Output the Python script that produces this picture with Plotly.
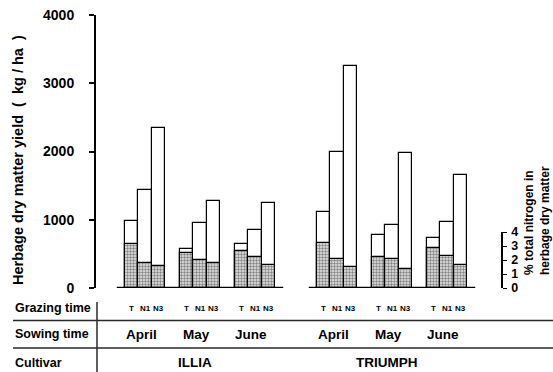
import plotly.graph_objects as go

# ---------------- data ----------------
cultivars = ["ILLIA", "TRIUMPH"]
sowing_times = ["April", "May", "June"]
grazing_times = ["T", "N1", "N3"]

# herbage dry matter yield (kg/ha), order: April T,N1,N3, May T,N1,N3, June T,N1,N3
illia_yield = [980, 1440, 2340, 575, 950, 1270, 650, 850, 1250]
triumph_yield = [1120, 1990, 3250, 780, 920, 1980, 740, 970, 1660]

# % total nitrogen in herbage dry matter (stippled part)
illia_n = [3.12, 1.76, 1.57, 2.48, 2.00, 1.76, 2.64, 2.19, 1.62]
triumph_n = [3.19, 2.07, 1.52, 2.24, 2.09, 1.38, 2.84, 2.29, 1.64]

yield_ticks = [0, 1000, 2000, 3000, 4000]
n_ticks = [0, 1, 2, 3, 4]

# ---------------- layout geometry ----------------
W, H = 553, 372
L, R, T, B = 96, 0, 15, 84
PW, PH = W - L - R, H - T - B
bottom_px = H - B

def px_x(px):
    return (px - L) / PW

def px_y(py):
    return (bottom_px - py) / PH

FONT = "Liberation Sans, Arial, Helvetica, sans-serif"
bar_w = 13.5
first_center = 131.5
group_step = 55.0
cultivar_step = 192.0

xs, ys, ns, bar_lab = [], [], [], []
group_centers = []
for c, (yv, nv) in enumerate([(illia_yield, illia_n), (triumph_yield, triumph_n)]):
    for m in range(len(sowing_times)):
        base = first_center + m * group_step + c * cultivar_step
        group_centers.append(base + bar_w)
        for b in range(len(grazing_times)):
            k = m * 3 + b
            xs.append(base + b * bar_w)
            ys.append(yv[k])
            ns.append(nv[k])
            bar_lab.append(grazing_times[b])

fig = go.Figure()
fig.add_trace(go.Bar(
    x=xs, y=ys, width=bar_w, yaxis="y",
    marker=dict(color="white", line=dict(color="black", width=1.2)),
    showlegend=False, hoverinfo="skip"))
fig.add_trace(go.Bar(
    x=xs, y=ns, width=bar_w, yaxis="y3",
    marker=dict(color="#d8d8d8", line=dict(color="black", width=1.2),
                pattern=dict(shape=".", fgcolor="#222222", bgcolor="#e6e6e6",
                             size=3, solidity=0.5)),
    showlegend=False, hoverinfo="skip"))

shapes = []
# baselines for each cultivar
for c in range(len(cultivars)):
    i0 = c * 9
    i1 = c * 9 + 8
    shapes.append(dict(type="line", xref="x", yref="y",
                       x0=xs[i0] - bar_w / 2 - 8, x1=xs[i1] + bar_w / 2 + 8,
                       y0=0, y1=0, line=dict(color="black", width=2.5)))
# table lines
line_col = "#2a2a2a"
for py in (320.5, 348):
    shapes.append(dict(type="line", xref="paper", yref="paper",
                       x0=px_x(13), x1=px_x(553), y0=px_y(py), y1=px_y(py),
                       line=dict(color=line_col, width=1.5)))
shapes.append(dict(type="line", xref="paper", yref="paper",
                   x0=px_x(97), x1=px_x(97), y0=px_y(302), y1=px_y(372),
                   line=dict(color=line_col, width=1.5)))

def bold(size):
    return dict(family=FONT, size=size, color="black", weight="bold")

ann = []
# grazing labels
for x, lab in zip(xs, bar_lab):
    ann.append(dict(x=x, y=px_y(308), xref="x", yref="paper", text=lab,
                    xanchor="center", yanchor="middle",
                    showarrow=False, font=bold(8)))
# sowing labels
for g, gc in enumerate(group_centers):
    ann.append(dict(x=gc - 4, y=px_y(334), xref="x", yref="paper",
                    text=sowing_times[g % 3], showarrow=False,
                    xanchor="center", yanchor="middle", font=bold(13.5)))
# cultivar labels
for c in range(len(cultivars)):
    cc = (group_centers[c * 3] + group_centers[c * 3 + 2]) / 2
    ann.append(dict(x=cc - 5, y=px_y(362), xref="x", yref="paper",
                    text=cultivars[c], showarrow=False,
                    xanchor="center", yanchor="middle", font=bold(13.5)))
# row labels
for txt, py in (("Grazing time", 308), ("Sowing time", 334), ("Cultivar", 363)):
    ann.append(dict(x=px_x(13), y=px_y(py), xref="paper", yref="paper", text=txt,
                    xanchor="left", yanchor="middle", showarrow=False,
                    font=bold(12.5)))
# axis titles
ann.append(dict(x=px_x(18), y=px_y(160), xref="paper", yref="paper",
                text="Herbage dry matter yield \u00a0(\u00a0 kg / ha \u00a0)",
                textangle=-90, showarrow=False, xanchor="center", yanchor="middle",
                font=bold(14.5)))
ann.append(dict(x=px_x(537), y=px_y(221), xref="paper", yref="paper",
                text="% total nitrogen in<br>herbage dry matter", align="left",
                textangle=-90, showarrow=False, xanchor="center", yanchor="middle",
                font=bold(12)))

fig.update_layout(
    width=W, height=H, autosize=False,
    margin=dict(l=L, r=R, t=T, b=B, pad=0),
    paper_bgcolor="white", plot_bgcolor="rgba(0,0,0,0)",
    barmode="overlay", bargap=0,
    xaxis=dict(range=[L, W - R], showgrid=False, zeroline=False, showline=False,
               showticklabels=False, ticks="", fixedrange=True),
    yaxis=dict(range=[0, 4000], tickvals=yield_ticks, showgrid=False, zeroline=False,
               showline=True, linecolor="black", linewidth=2,
               ticks="outside", ticklen=5, tickwidth=1.5, tickcolor="black",
               ticklabelstandoff=12, tickfont=bold(14)),
    yaxis3=dict(domain=[0, 56 / PH], range=[0, 4], tickvals=n_ticks,
                anchor="free", position=px_x(502), side="right",
                showgrid=False, zeroline=False, showline=True, linecolor="black",
                linewidth=1.5, ticks="outside", ticklen=4, tickwidth=1.2,
                tickcolor="black", ticklabelstandoff=2, tickfont=bold(12.5)),
    shapes=shapes, annotations=ann,
)

fig.write_html("out.html")
